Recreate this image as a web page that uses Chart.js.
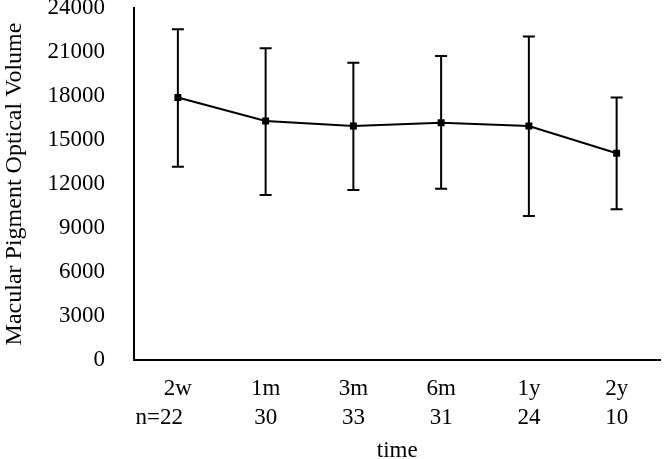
<!DOCTYPE html>
<html>
<head>
<meta charset="utf-8">
<script src="https://cdn.jsdelivr.net/npm/chart.js@4"></script>
<style>
html,body{margin:0;padding:0;background:#fff;}
#wrap{width:666px;height:459px;}
</style>
</head>
<body>
<div id="wrap"><canvas id="c"></canvas></div>
<script>
const categories = ['2w', '1m', '3m', '6m', '1y', '2y'];
const sampleSizes = [22, 30, 33, 31, 24, 10];
const meanValues = [17900, 16300, 15950, 16180, 15950, 14100];
const upperValues = [22550, 21250, 20270, 20730, 22050, 17900];
const lowerValues = [13180, 11250, 11590, 11680, 9820, 10270];
const yTicks = [0, 3000, 6000, 9000, 12000, 15000, 18000, 21000, 24000];

const FONT = "'Liberation Serif', 'Times New Roman', serif";

const errorBars = {
  id: 'errorBars',
  afterDatasetsDraw(chart) {
    const ctx = chart.ctx, x = chart.scales.x, y = chart.scales.y;
    ctx.save();
    ctx.strokeStyle = '#000';
    ctx.lineWidth = 2;
    categories.forEach((c, i) => {
      const px = x.getPixelForValue(i);
      const t = y.getPixelForValue(upperValues[i]);
      const b = y.getPixelForValue(lowerValues[i]);
      ctx.beginPath();
      ctx.moveTo(px, t); ctx.lineTo(px, b);
      ctx.moveTo(px - 6, t); ctx.lineTo(px + 6, t);
      ctx.moveTo(px - 6, b); ctx.lineTo(px + 6, b);
      ctx.stroke();
    });
    ctx.restore();
  }
};

const nLabels = {
  id: 'nLabels',
  afterDraw(chart) {
    const ctx = chart.ctx, x = chart.scales.x;
    ctx.save();
    ctx.fillStyle = '#000';
    ctx.font = '23px ' + FONT;
    ctx.textBaseline = 'middle';
    sampleSizes.forEach((n, i) => {
      const px = x.getPixelForValue(i);
      if (i === 0) {
        ctx.textAlign = 'right';
        ctx.fillText('n=' + n, px + 5, 418);
      } else {
        ctx.textAlign = 'center';
        ctx.fillText(String(n), px, 418);
      }
    });
    ctx.restore();
  }
};

new Chart(document.getElementById('c'), {
  type: 'line',
  data: {
    labels: categories,
    datasets: [{
      data: meanValues,
      borderColor: '#000',
      backgroundColor: '#000',
      borderWidth: 2,
      pointStyle: 'rect',
      pointRadius: 3.5,
      pointHoverRadius: 3.5,
      tension: 0,
      fill: false
    }]
  },
  options: {
    responsive: true,
    maintainAspectRatio: false,
    animation: false,
    devicePixelRatio: 1,
    layout: { padding: { top: 0, right: 0, bottom: 0, left: 0 } },
    plugins: { legend: { display: false }, tooltip: { enabled: false } },
    scales: {
      x: {
        type: 'category',
        offset: true,
        grid: { display: false, drawTicks: false },
        border: { display: true, color: '#000', width: 2 },
        ticks: { color: '#000', font: { family: FONT, size: 23 }, padding: 15, maxRotation: 0 },
        title: { display: true, text: 'time', color: '#000', font: { family: FONT, size: 23 }, padding: { top: 0, bottom: -6 } },
        afterFit(s) { s.height = 99; s.paddingLeft = 0; s.paddingRight = 0; }
      },
      y: {
        min: 0,
        max: 24000,
        afterBuildTicks(s) { s.ticks = yTicks.map(v => ({ value: v })); },
        grid: { display: false, drawTicks: false },
        border: { display: true, color: '#000', width: 2 },
        ticks: { color: '#000', font: { family: FONT, size: 23 }, padding: 29, callback: v => String(v) },
        title: { display: true, text: 'Macular Pigment Optical Volume', color: '#000', font: { family: FONT, size: 24 }, padding: { top: 0, bottom: 0 } },
        afterFit(s) { s.width = 134; s.paddingTop = 8; s.paddingBottom = 0; }
      }
    }
  },
  plugins: [errorBars, nLabels]
});
</script>
</body>
</html>
